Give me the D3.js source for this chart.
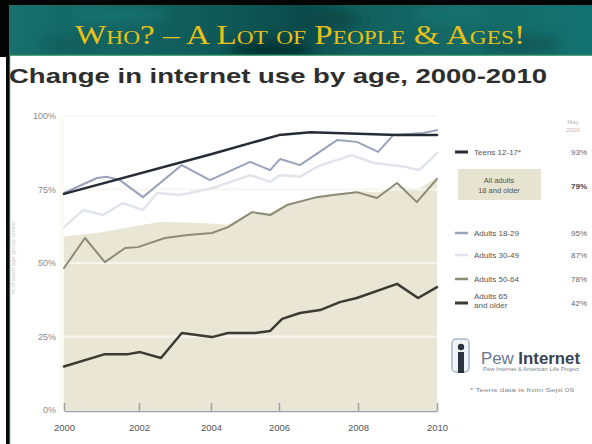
<!DOCTYPE html>
<html><head><meta charset="utf-8">
<script src="https://cdn.jsdelivr.net/npm/d3@7"></script>
<style>html,body{margin:0;padding:0;background:#fff;overflow:hidden} svg{display:block}</style>
</head><body>
<svg id="c" width="592" height="444"></svg>
<script>
// ---------- data ----------
const tickYears = [2000, 2002, 2004, 2006, 2008, 2010];
const yTicks = [0, 25, 50, 75, 100];
const yTickLabels = ["0%", "25%", "50%", "75%", "100%"];

const teens = [[2000,73.5],[2004,87],[2006,93.5],[2006.8,94.5],[2009,93.5],[2010,93.5]];
const allAdults = [[2000,59],[2001,60.5],[2002.6,64],[2003.7,63.6],[2004.5,63],[2005.2,67.5],[2005.7,67],[2006.2,70],[2007,73],[2008,74.5],[2008.5,74],[2009,76],[2009.5,75],[2010,79]];
const adults1829 = [[2000,73.8],[2000.88,78.9],[2001.15,79.3],[2001.49,78.2],[2002.11,72.4],[2003.19,83.3],[2003.97,78.2],[2005.15,84.4],[2005.74,81.6],[2006.03,85.4],[2006.53,83.3],[2007.47,91.8],[2007.97,91.2],[2008.51,87.8],[2008.89,93.5],[2009.65,94.2],[2010,95.2]];
const adults3049 = [[2000,62.2],[2000.51,68],[2001.04,66.3],[2001.57,70.4],[2002.11,68],[2002.5,73.8],[2003.14,73.1],[2004.06,75.5],[2005.15,79.9],[2005.74,77.6],[2006.03,79.9],[2006.53,79.3],[2007,83],[2007.85,86.7],[2008.4,84],[2009.2,82.7],[2009.55,81.6],[2010,87.4]];
const adults5064 = [[2000,48.3],[2000.56,58.5],[2001.09,50.3],[2001.63,55.1],[2001.97,55.4],[2002.72,58.5],[2003.36,59.5],[2004.03,60.2],[2004.5,62.2],[2005.21,67.3],[2005.74,66.3],[2006.2,69.7],[2006.96,72.4],[2007.37,73.1],[2007.97,74.1],[2008.48,72.1],[2008.99,77.2],[2009.49,70.7],[2010,78.6]];
const adults65 = [[2000,14.8],[2001.09,19],[2001.71,19],[2002.03,19.7],[2002.61,17.7],[2003.19,26.2],[2004.03,24.8],[2004.5,26.2],[2005.29,26.2],[2005.74,26.9],[2006.08,31],[2006.53,33],[2007.04,34],[2007.54,36.7],[2007.97,38.1],[2008.99,42.9],[2009.52,38.1],[2010,41.8]];

const legendNames = ["Teens 12-17*", "All adults|18 and older", "Adults 18-29", "Adults 30-49", "Adults 50-64", "Adults 65|and older"];
const legendValues = ["93%", "79%", "95%", "87%", "78%", "42%"];

// ---------- drawing ----------
const svg = d3.select("#c");
const defs = svg.append("defs");

// header background
const g1 = defs.append("linearGradient").attr("id","hdr").attr("x1","0").attr("x2","1").attr("y1","0").attr("y2","0");
[[0,"#17706c"],[0.15,"#146663"],[0.35,"#0f5a58"],[0.5,"#0c4c4b"],[0.6,"#11605e"],[0.8,"#156a67"],[1,"#137270"]].forEach(s=>g1.append("stop").attr("offset",s[0]).attr("stop-color",s[1]));
const blur = defs.append("filter").attr("id","bl").attr("x","-50%").attr("y","-50%").attr("width","200%").attr("height","200%");
blur.append("feGaussianBlur").attr("stdDeviation",6);
const clip = defs.append("clipPath").attr("id","hclip");
clip.append("rect").attr("x",9).attr("y",5).attr("width",583).attr("height",50);

svg.append("rect").attr("x",0).attr("y",0).attr("width",592).attr("height",444).attr("fill","#fff");
svg.append("rect").attr("x",0).attr("y",0).attr("width",592).attr("height",5).attr("fill","#050505");
svg.append("rect").attr("x",0).attr("y",0).attr("width",9).attr("height",57).attr("fill","#050505");
svg.append("rect").attr("x",6).attr("y",57).attr("width",3).attr("height",387).attr("fill","#080808");
svg.append("rect").attr("x",9).attr("y",5).attr("width",1.2).attr("height",439).attr("fill","#1f6b4c");
const hg = svg.append("g").attr("clip-path","url(#hclip)");
hg.append("rect").attr("x",9).attr("y",5).attr("width",583).attr("height",50).attr("fill","url(#hdr)");
[[270,50,40,10,"#062e2e",0.8],[330,20,30,8,"#0a3d3c",0.6],[120,15,50,8,"#1f7f7a",0.5],[520,45,40,10,"#0b4645",0.5],[70,45,30,8,"#0d5250",0.5],[450,15,40,8,"#1b7b76",0.5]].forEach(e=>{
  hg.append("ellipse").attr("cx",e[0]).attr("cy",e[1]).attr("rx",e[2]).attr("ry",e[3]).attr("fill",e[4]).attr("opacity",e[5]).attr("filter","url(#bl)");
});
svg.append("rect").attr("x",9).attr("y",54.5).attr("width",583).attr("height",1.3).attr("fill","#2b8a63");

svg.append("text").attr("x",300).attr("y",44).attr("text-anchor","middle")
  .attr("font-family","Liberation Serif, serif").attr("font-size",27).attr("fill","#e8c018")
  .style("font-variant","small-caps").attr("textLength",450).attr("lengthAdjust","spacingAndGlyphs")
  .text("Who? – A Lot of People & Ages!");

svg.append("text").attr("x",9).attr("y",83)
  .attr("font-family","Liberation Sans, Arial, sans-serif").attr("font-weight","bold").attr("font-size",21).attr("fill","#2e2e2e")
  .attr("textLength",538).attr("lengthAdjust","spacingAndGlyphs")
  .text("Change in internet use by age, 2000-2010");

// scales
const x = d3.scaleLinear().domain(tickYears).range([64,139,211,279,358,437]);
const y = d3.scaleLinear().domain([0,100]).range([410,116]);

// faint rotated axis note
svg.append("text").attr("transform","translate(15,258) rotate(-90)").attr("text-anchor","middle")
  .attr("font-family","Liberation Sans, Arial, sans-serif").attr("font-size",6).attr("fill","#c8c8c8")
  .text("% of each age group online");

// plot background strip
svg.append("rect").attr("x",60).attr("y",y(100)).attr("width",4).attr("height",y(0)-y(100)).attr("fill","#fbfaf3");

// area
const area = d3.area().x(d=>x(d[0])).y0(y(0)).y1(d=>y(d[1]));
svg.append("path").datum(allAdults).attr("d",area).attr("fill","#e9e6d6");

// gridlines
svg.append("g").selectAll("line").data(yTicks.filter(v=>v>0)).join("line")
  .attr("x1",64).attr("x2",437).attr("y1",d=>y(d)).attr("y2",d=>y(d))
  .attr("stroke",d=>d===100?"#eeeeee":"#f7f6ee").attr("stroke-width",d=>d===100?1:2);

// y labels
svg.append("g").selectAll("text").data(yTicks).join("text")
  .attr("x",56).attr("y",d=>y(d)+3).attr("text-anchor","end")
  .attr("font-family","Liberation Sans, Arial, sans-serif").attr("font-size",9).attr("fill","#8a8a8a")
  .text((d,i)=>yTickLabels[i]);

// x axis
const xAxis = d3.axisBottom(x).tickValues(tickYears).tickFormat(d3.format("d")).tickSize(0).tickPadding(13);
const ax = svg.append("g").attr("transform",`translate(0,${y(0)+1})`).call(xAxis);
ax.select(".domain").attr("stroke","#a0a0a0").attr("stroke-width",1.5);
ax.selectAll("text").attr("font-family","Liberation Sans, Arial, sans-serif").attr("font-size",9.5).attr("fill","#555");
ax.selectAll(".tick").append("line").attr("y1",0).attr("y2",-8).attr("stroke","#a0a0a0").attr("stroke-width",1.5);

// lines
const line = d3.line().x(d=>x(d[0])).y(d=>y(d[1]));
const series = [
  [adults3049, "#e2e4ec", 2.5],
  [adults1829, "#97a2bb", 2],
  [adults5064, "#8c8b78", 2],
  [adults65, "#3b3b33", 2.5],
  [teens, "#262c36", 2.5]
];
svg.append("g").selectAll("path").data(series).join("path")
  .attr("d",d=>line(d[0])).attr("fill","none").attr("stroke",d=>d[1]).attr("stroke-width",d=>d[2])
  .attr("stroke-linejoin","round").attr("stroke-linecap","round");

// legend
const lf = "Liberation Sans, Arial, sans-serif";
svg.append("text").attr("x",573).attr("y",124).attr("text-anchor","middle").attr("font-family",lf).attr("font-size",6).attr("fill","#b5b5b5").text("May");
svg.append("text").attr("x",573).attr("y",132).attr("text-anchor","middle").attr("font-family",lf).attr("font-size",6).attr("fill","#b5b5b5").text("2010");

const legY = [152, 186, 233, 255, 279, 303];
const swatch = [["#262c36",3],null,["#97a2bb",2.5],["#e2e4ec",2.5],["#8c8b78",2.5],["#3b3b33",3]];
svg.append("rect").attr("x",458).attr("y",169).attr("width",83).attr("height",31).attr("fill","#e6e4d0");
const lg = svg.append("g");
legendNames.forEach((n,i)=>{
  const parts = n.split("|");
  if (i===1) {
    lg.append("text").attr("x",499).attr("y",183).attr("text-anchor","middle").attr("font-family",lf).attr("font-size",7.5).attr("fill","#555").text(parts[0]);
    lg.append("text").attr("x",499).attr("y",193).attr("text-anchor","middle").attr("font-family",lf).attr("font-size",7.5).attr("fill","#555").text(parts[1]);
  } else {
    const s = swatch[i];
    lg.append("line").attr("x1",455).attr("x2",468).attr("y1",legY[i]).attr("y2",legY[i]).attr("stroke",s[0]).attr("stroke-width",s[1]);
    if (parts.length===1) {
      lg.append("text").attr("x",474).attr("y",legY[i]+3).attr("font-family",lf).attr("font-size",8).attr("fill","#555").text(parts[0]);
    } else {
      lg.append("text").attr("x",474).attr("y",legY[i]-4).attr("font-family",lf).attr("font-size",8).attr("fill","#555").text(parts[0]);
      lg.append("text").attr("x",474).attr("y",legY[i]+5).attr("font-family",lf).attr("font-size",8).attr("fill","#555").text(parts[1]);
    }
  }
  lg.append("text").attr("x",587).attr("y",legY[i]+3).attr("text-anchor","end").attr("font-family",lf)
    .attr("font-size",8).attr("font-weight",i===1?"bold":"normal").attr("fill",i===1?"#444":"#666").text(legendValues[i]);
});

// Pew logo
const lo = svg.append("g");
lo.append("rect").attr("x",452).attr("y",339).attr("width",17).attr("height",33).attr("rx",4).attr("fill","#f2f5f8").attr("stroke","#a9b6c6").attr("stroke-width",1.5);
lo.append("circle").attr("cx",461).attr("cy",347).attr("r",3.2).attr("fill","#2c3444");
lo.append("rect").attr("x",458).attr("y",352).attr("width",6).attr("height",21).attr("fill","#2c3444");
lo.append("text").attr("x",481).attr("y",364).attr("font-family",lf).attr("font-size",17).attr("fill","#6a7690")
  .attr("textLength",99).attr("lengthAdjust","spacingAndGlyphs")
  .call(t=>{t.append("tspan").text("Pew ");t.append("tspan").attr("fill","#3a4256").attr("font-weight","bold").text("Internet");});
lo.append("text").attr("x",483).attr("y",371).attr("font-family",lf).attr("font-size",4.5).attr("fill","#7c8290")
  .attr("textLength",96).attr("lengthAdjust","spacingAndGlyphs").text("Pew Internet & American Life Project");
lo.append("text").attr("x",470).attr("y",392).attr("font-family",lf).attr("font-size",5.5).attr("fill","#8a8a8a")
  .attr("textLength",104).attr("lengthAdjust","spacingAndGlyphs").text("* Teens data is from Sept 09");
</script>
</body></html>
